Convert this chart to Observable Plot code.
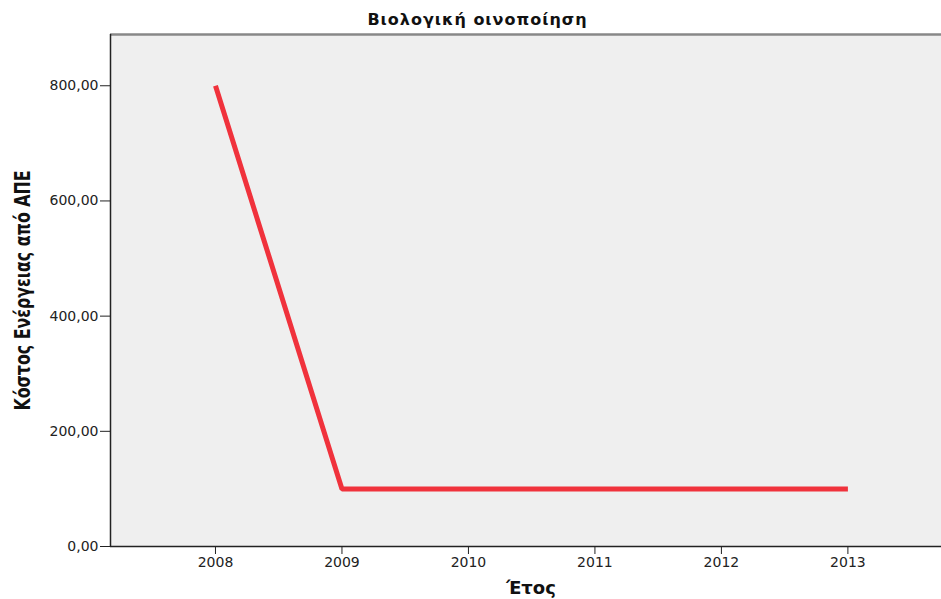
<!DOCTYPE html>
<html>
<head>
<meta charset="utf-8">
<script src="https://cdn.jsdelivr.net/npm/d3@7"></script>
<script src="https://cdn.jsdelivr.net/npm/@observablehq/plot@0.6"></script>
<style>
  body { margin: 0; background: #fff; }
  #title { width: 941px; height: 33px; text-align: center; font: bold 16px "DejaVu Sans", sans-serif; letter-spacing: 1px; line-height: 16px; padding-top: 12px; padding-left: 14px; box-sizing: border-box; color: #111; }
  svg { display: block; }
</style>
</head>
<body>
<div id="title">Βιολογική οινοποίηση</div>
<div id="chart"></div>
<script>
const years = [2008, 2009, 2010, 2011, 2012, 2013];
const costs = [800, 100, 100, 100, 100, 100];
const yTicks = [0, 200, 400, 600, 800];
const xDomain = [2007.17, 2013.74];
const yDomain = [0, 889];
const yLabel = "Κόστος Ενέργειας από ΑΠΕ";
const xLabel = "Έτος";

const data = years.map((y, i) => ({year: y, cost: costs[i]}));

const chart = Plot.plot({
  width: 941,
  height: 566,
  marginTop: 1,
  marginLeft: 110,
  marginRight: 0,
  marginBottom: 53,
  style: {fontFamily: "DejaVu Sans, sans-serif", fontSize: "14px", color: "#222", overflow: "visible"},
  x: {domain: xDomain},
  y: {domain: yDomain},
  marks: [
    Plot.frame({fill: "#efefef", stroke: null}),
    Plot.ruleY([yDomain[1]], {stroke: "#888", strokeWidth: 2.5}),
    Plot.ruleX([xDomain[0]], {stroke: "#222", strokeWidth: 1.5}),
    Plot.ruleY([0], {stroke: "#222", strokeWidth: 1.5}),
    Plot.axisY({ticks: yTicks, tickFormat: d => d.toFixed(2).replace(".", ","), tickSize: 10, tickPadding: 2, label: null}),
    Plot.axisX({ticks: years, tickFormat: d => String(d), tickSize: 8, tickPadding: 3, label: null}),
    Plot.line(data, {x: "year", y: "cost", stroke: "#f0323c", strokeWidth: 5, strokeLinejoin: "miter", strokeLinecap: "butt"}),
    Plot.text([yLabel], {className: "ylab", frameAnchor: "left", textAnchor: "middle", rotate: -90, dx: -87, fontSize: 21, fontWeight: "bold", fontFamily: "DejaVu Sans, sans-serif", fill: "#111"}),
    Plot.text([xLabel], {frameAnchor: "bottom", dy: 47, dx: 5, fontSize: 18, fontWeight: "bold", fontFamily: "DejaVu Sans, sans-serif", fill: "#111"})
  ]
});
d3.select(chart).selectAll(".ylab text").attr("textLength", 240).attr("lengthAdjust", "spacingAndGlyphs");
document.getElementById("chart").append(chart);
</script>
</body>
</html>
